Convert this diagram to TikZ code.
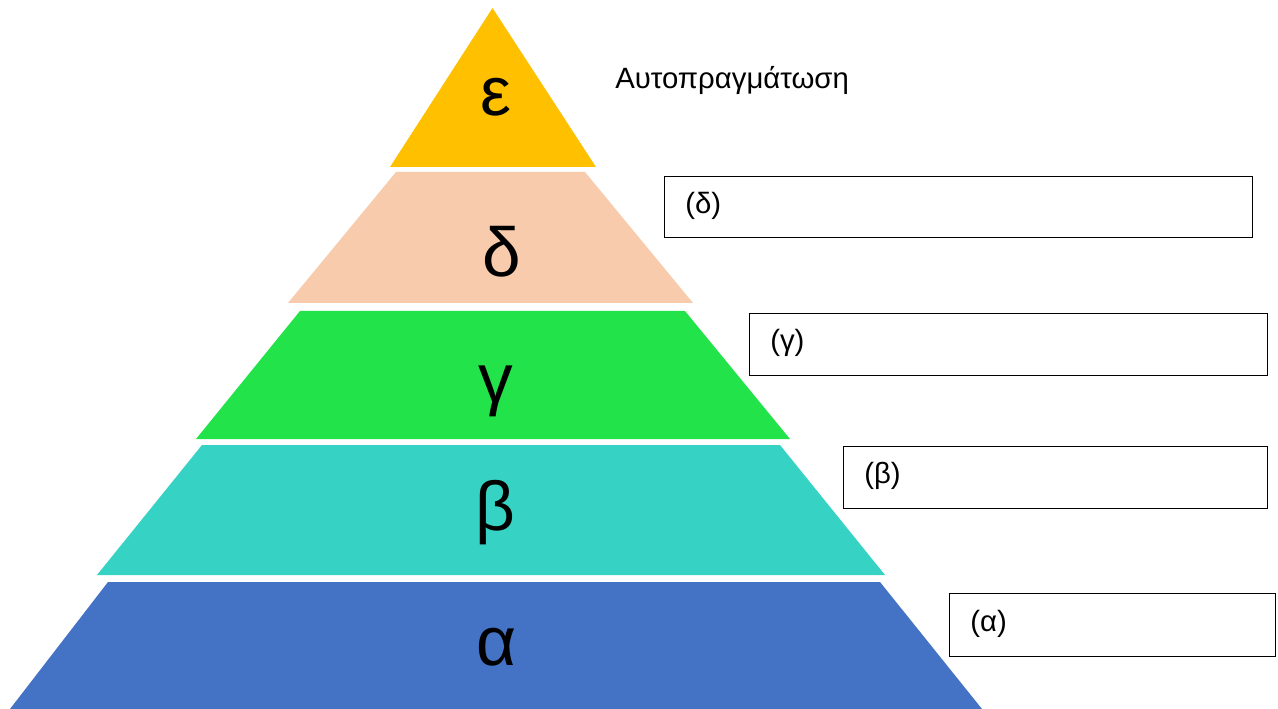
\documentclass[tikz,border=0pt]{standalone}
\usepackage{fontspec}
\setmainfont{Liberation Sans}
\definecolor{cE}{HTML}{FFC000}
\definecolor{cD}{HTML}{F8CBAD}
\definecolor{cG}{HTML}{23E34B}
\definecolor{cB}{HTML}{36D3C5}
\definecolor{cA}{HTML}{4472C4}
\begin{document}
\begin{tikzpicture}[x=0.75pt,y=-0.75pt,
  big/.style={font=\fontsize{52}{60}\selectfont, inner sep=0pt, anchor=base},
  lbl/.style={font=\fontsize{22}{26}\selectfont, inner sep=0pt, anchor=west},
  answer/.style={draw=black, line width=1pt, fill=white, anchor=north west, inner sep=0pt}]
\useasboundingbox (0,0) rectangle (1278,709);
% pyramid layers
\fill[cE] (492.5,8) -- (596,167) -- (390,167) -- cycle;
\fill[cD] (396,172) -- (585,172) -- (693,303) -- (288,303) -- cycle;
\fill[cG] (300,311) -- (685,311) -- (790,439) -- (196,439) -- cycle;
\fill[cB] (202,445) -- (780,445) -- (885,575) -- (97,575) -- cycle;
\fill[cA] (108,582) -- (880,582) -- (982,709) -- (10,709) -- cycle;
% big letters
\node[big] (le) at (496,116) {ε};
\node[big] (ld) at (502,277) {δ};
\node[big] (lg) at (496,402) {γ};
\node[big] (lb) at (495,530) {β};
\node[big] (la) at (497,665) {α};
% title
\node[font=\fontsize{22}{26}\selectfont, inner sep=0pt, anchor=base west] (title) at (615,89) {Αυτοπραγμάτωση};
% answer boxes
\node[answer, minimum width=441pt, minimum height=45.75pt] (bd) at (664,176) {};
\node[answer, minimum width=388.5pt, minimum height=46.5pt] (bg) at (749,313) {};
\node[answer, minimum width=318pt, minimum height=46.5pt] (bb) at (843,446) {};
\node[answer, minimum width=244.5pt, minimum height=47.25pt] (ba) at (949,593) {};
\node[lbl] (td) at (685,206) {(δ)};
\node[lbl] (tg) at (770,343) {(γ)};
\node[lbl] (tb) at (864,476) {(β)};
\node[lbl] (ta) at (970,624) {(α)};
\end{tikzpicture}
\end{document}
